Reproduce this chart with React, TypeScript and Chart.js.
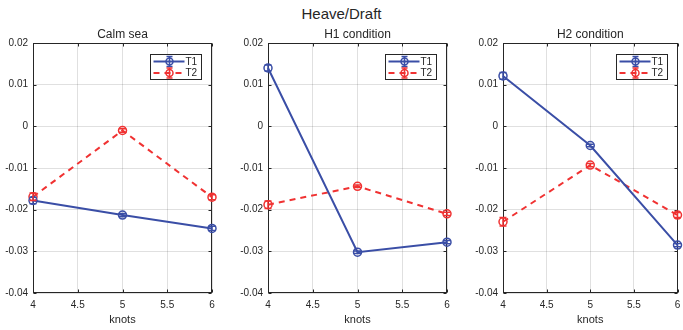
import React, { useEffect, useRef } from "react";
import { Chart, registerables } from "chart.js";

Chart.register(...registerables);

const knots = [4, 5, 6];
const xTicks = [4, 4.5, 5, 5.5, 6];
const yTicks = [0.02, 0.01, 0, -0.01, -0.02, -0.03, -0.04];

const calmT1 = [-0.0178, -0.0213, -0.0245];
const calmT1Err = [0.0008, 0.0004, 0.0005];
const calmT2 = [-0.0169, -0.001, -0.017];
const calmT2Err = [0.0009, 0.0004, 0.0006];

const h1T1 = [0.014, -0.0302, -0.0278];
const h1T1Err = [0.0007, 0.0003, 0.0004];
const h1T2 = [-0.0188, -0.0144, -0.021];
const h1T2Err = [0.0009, 0.0003, 0.0004];

const h2T1 = [0.0121, -0.0046, -0.0285];
const h2T1Err = [0.0008, 0.0003, 0.0004];
const h2T2 = [-0.0229, -0.0093, -0.0213];
const h2T2Err = [0.001, 0.0004, 0.0006];

const BLUE = "#3a4ea6";
const RED = "#f03232";
const TEXT = "#262626";
const GRID = "rgba(0,0,0,0.12)";
const FONT = "'Liberation Sans', Arial, Helvetica, sans-serif";

const fmt = (v: number) => {
  const r = Math.round(v * 100) / 100;
  return r === 0 ? "0" : String(r);
};

const boxPlugin = {
  id: "boxPlugin",
  beforeDatasetsDraw(chart: any) {
    const { ctx, chartArea: a, scales } = chart;
    ctx.save();
    ctx.strokeStyle = TEXT;
    ctx.lineWidth = 1;
    const L = Math.round(a.left) + 0.5;
    const R = Math.round(a.right) - 0.5;
    const T = Math.round(a.top) + 0.5;
    const B = Math.round(a.bottom) - 0.5;
    ctx.strokeRect(L, T, R - L, B - T);
    ctx.beginPath();
    xTicks.forEach((t) => {
      const x = Math.round(scales.x.getPixelForValue(t)) + 0.5;
      ctx.moveTo(x, B);
      ctx.lineTo(x, B - 3);
      ctx.moveTo(x, T);
      ctx.lineTo(x, T + 3);
    });
    yTicks.forEach((t) => {
      const y = Math.round(scales.y.getPixelForValue(t)) + 0.5;
      ctx.moveTo(L, y);
      ctx.lineTo(L + 3, y);
      ctx.moveTo(R, y);
      ctx.lineTo(R - 3, y);
    });
    ctx.stroke();
    ctx.restore();
  },
};

const errorPlugin = {
  id: "errorPlugin",
  afterDatasetsDraw(chart: any) {
    const { ctx, scales } = chart;
    ctx.save();
    chart.data.datasets.forEach((ds: any, di: number) => {
      const meta = chart.getDatasetMeta(di);
      ctx.strokeStyle = ds.borderColor;
      ctx.lineWidth = 1.5;
      ctx.setLineDash([]);
      meta.data.forEach((pt: any, i: number) => {
        const v = ds.data[i].y;
        const e = ds.errors[i];
        const x = pt.x;
        const y1 = scales.y.getPixelForValue(v + e);
        const y2 = scales.y.getPixelForValue(v - e);
        ctx.beginPath();
        ctx.moveTo(x, y1);
        ctx.lineTo(x, y2);
        ctx.moveTo(x - 3.5, y1);
        ctx.lineTo(x + 3.5, y1);
        ctx.moveTo(x - 3.5, y2);
        ctx.lineTo(x + 3.5, y2);
        ctx.stroke();
      });
    });
    ctx.restore();
  },
};

const legendPlugin = {
  id: "legendPlugin",
  afterDraw(chart: any) {
    const { ctx, chartArea: a } = chart;
    const w = 51;
    const h = 25;
    const left = Math.round(a.right - 11 - w) + 0.5;
    const top = Math.round(a.top + 11) + 0.5;
    ctx.save();
    ctx.fillStyle = "#ffffff";
    ctx.fillRect(left, top, w, h);
    ctx.strokeStyle = TEXT;
    ctx.lineWidth = 1;
    ctx.strokeRect(left, top, w, h);
    chart.data.datasets.forEach((ds: any, i: number) => {
      const cy = top + 7 + i * 11.5;
      const x0 = left + 3;
      const x1 = left + 34;
      const cx = left + 19;
      ctx.strokeStyle = ds.borderColor;
      ctx.lineWidth = 2;
      ctx.setLineDash(ds.borderDash || []);
      ctx.beginPath();
      ctx.moveTo(x0, cy);
      ctx.lineTo(x1, cy);
      ctx.stroke();
      ctx.setLineDash([]);
      ctx.lineWidth = 1.5;
      ctx.beginPath();
      ctx.arc(cx, cy, 3.5, 0, Math.PI * 2);
      ctx.stroke();
      ctx.beginPath();
      ctx.moveTo(cx, cy - 5);
      ctx.lineTo(cx, cy + 5);
      ctx.moveTo(cx - 3, cy - 5);
      ctx.lineTo(cx + 3, cy - 5);
      ctx.moveTo(cx - 3, cy + 5);
      ctx.lineTo(cx + 3, cy + 5);
      ctx.stroke();
      ctx.fillStyle = TEXT;
      ctx.font = `10px ${FONT}`;
      ctx.textBaseline = "middle";
      ctx.textAlign = "left";
      ctx.fillText(ds.label, left + 35, cy + 0.5);
    });
    ctx.restore();
  },
};

function makeConfig(
  title: string,
  t1: number[],
  t1e: number[],
  t2: number[],
  t2e: number[],
  padRight: number
): any {
  const tickFont = { family: FONT, size: 10 };
  return {
    type: "line",
    data: {
      datasets: [
        {
          label: "T1",
          data: knots.map((k, i) => ({ x: k, y: t1[i] })),
          errors: t1e,
          borderColor: BLUE,
          borderWidth: 2,
          pointRadius: 4,
          pointBorderWidth: 1.5,
          pointBorderColor: BLUE,
          pointBackgroundColor: "rgba(0,0,0,0)",
          tension: 0,
          clip: false,
        },
        {
          label: "T2",
          data: knots.map((k, i) => ({ x: k, y: t2[i] })),
          errors: t2e,
          borderColor: RED,
          borderWidth: 2,
          borderDash: [6, 5],
          pointRadius: 4,
          pointBorderWidth: 1.5,
          pointBorderColor: RED,
          pointBackgroundColor: "rgba(0,0,0,0)",
          tension: 0,
          clip: false,
        },
      ],
    },
    options: {
      animation: false,
      responsive: false,
      events: [],
      layout: { padding: { left: 0, right: padRight, top: 0, bottom: 0 } },
      plugins: {
        legend: { display: false },
        tooltip: { enabled: false },
        title: {
          display: true,
          text: title,
          fullSize: false,
          color: TEXT,
          font: { family: FONT, size: 12, weight: "normal" },
          padding: { top: 27, bottom: 1.6 },
        },
      },
      scales: {
        x: {
          type: "linear",
          min: 4,
          max: 6,
          afterBuildTicks: (s: any) => {
            s.ticks = xTicks.map((v) => ({ value: v }));
          },
          ticks: {
            color: TEXT,
            font: tickFont,
            padding: 6,
            maxRotation: 0,
            autoSkip: false,
            callback: (v: number) => String(v),
          },
          grid: { color: GRID, drawTicks: false, lineWidth: 1 },
          border: { display: false },
          title: {
            display: true,
            text: "knots",
            color: TEXT,
            font: { family: FONT, size: 11 },
            padding: { top: 0, bottom: 3 },
          },
          afterFit: (s: any) => {
            s.height = 37;
            s.paddingLeft = 0;
            s.paddingRight = 0;
          },
        },
        y: {
          type: "linear",
          min: -0.04,
          max: 0.02,
          afterBuildTicks: (s: any) => {
            s.ticks = yTicks.slice().reverse().map((v) => ({ value: v }));
          },
          ticks: {
            color: TEXT,
            font: tickFont,
            padding: 5,
            autoSkip: false,
            callback: (v: number) => fmt(v),
          },
          grid: { color: GRID, drawTicks: false, lineWidth: 1 },
          border: { display: false },
          afterFit: (s: any) => {
            s.width = 33;
            s.paddingTop = 0;
            s.paddingBottom = 0;
          },
        },
      },
    },
    plugins: [boxPlugin, errorPlugin, legendPlugin],
  };
}

function Panel(props: {
  left: number;
  width: number;
  padRight: number;
  title: string;
  t1: number[];
  t1e: number[];
  t2: number[];
  t2e: number[];
}) {
  const ref = useRef<HTMLCanvasElement | null>(null);
  useEffect(() => {
    if (!ref.current) return;
    const chart = new Chart(
      ref.current,
      makeConfig(props.title, props.t1, props.t1e, props.t2, props.t2e, props.padRight)
    );
    return () => chart.destroy();
  }, []);
  return (
    <canvas
      ref={ref}
      width={props.width}
      height={330}
      style={{
        position: "absolute",
        left: props.left,
        top: 0,
        width: props.width,
        height: 330,
      }}
    />
  );
}

export default function App() {
  return (
    <div
      style={{
        position: "absolute",
        left: 0,
        top: 0,
        width: 683,
        height: 330,
        background: "#ffffff",
        overflow: "hidden",
      }}
    >
      <div
        style={{
          position: "absolute",
          left: 0,
          top: 5,
          width: 683,
          textAlign: "center",
          fontFamily: FONT,
          fontSize: 15,
          lineHeight: "18px",
          color: TEXT,
        }}
      >
        Heave/Draft
      </div>
      <Panel left={0} width={222} padRight={10} title="Calm sea" t1={calmT1} t1e={calmT1Err} t2={calmT2} t2e={calmT2Err} />
      <Panel left={235} width={222} padRight={10} title="H1 condition" t1={h1T1} t1e={h1T1Err} t2={h1T2} t2e={h1T2Err} />
      <Panel left={470} width={213} padRight={2} title="H2 condition" t1={h2T1} t1e={h2T1Err} t2={h2T2} t2e={h2T2Err} />
    </div>
  );
}
